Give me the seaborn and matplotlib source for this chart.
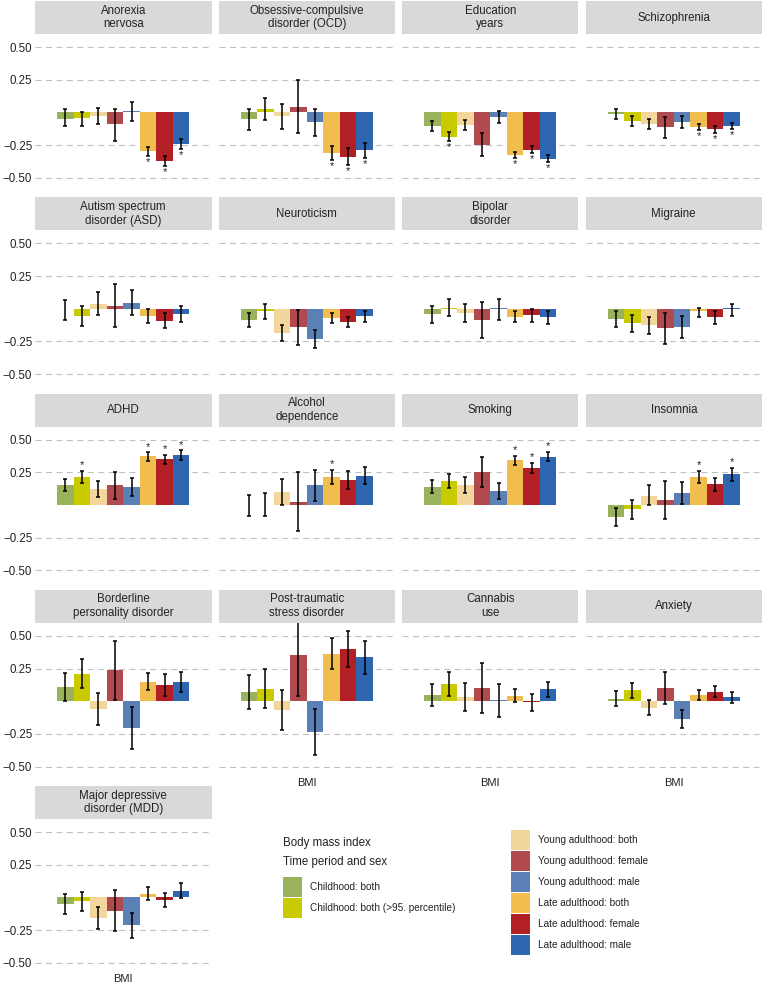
import pandas as pd
import matplotlib
matplotlib.use("Agg")
import matplotlib.pyplot as plt
from matplotlib.patches import Patch
import seaborn as sns

# panel titles (facets), in reading order
traits = ["Anorexia\nnervosa", "Obsessive-compulsive\ndisorder (OCD)", "Education\nyears", "Schizophrenia",
          "Autism spectrum\ndisorder (ASD)", "Neuroticism", "Bipolar\ndisorder", "Migraine",
          "ADHD", "Alcohol\ndependence", "Smoking", "Insomnia",
          "Borderline\npersonality disorder", "Post-traumatic\nstress disorder", "Cannabis\nuse", "Anxiety",
          "Major depressive\ndisorder (MDD)"]

groups = ["Childhood: both", "Childhood: both (>95. percentile)",
          "Young adulthood: both", "Young adulthood: female", "Young adulthood: male",
          "Late adulthood: both", "Late adulthood: female", "Late adulthood: male"]

colors = ["#9BB25C", "#CACA00", "#F2D69C", "#B04A4F", "#5B80B5", "#F1BD4F", "#B22026", "#2E66B1"]

# effect estimates per trait (one value per group)
beta = [
    [-0.048, -0.043, -0.025, -0.090, 0.010, -0.298, -0.371, -0.242],
    [-0.050, 0.025, -0.030, 0.040, -0.073, -0.313, -0.338, -0.285],
    [-0.104, -0.184, -0.093, -0.245, -0.033, -0.328, -0.285, -0.356],
    [-0.010, -0.063, -0.088, -0.114, -0.073, -0.114, -0.129, -0.100],
    [-0.005, -0.059, 0.038, 0.020, 0.046, -0.056, -0.092, -0.041],
    [-0.087, -0.015, -0.186, -0.143, -0.230, -0.071, -0.102, -0.059],
    [-0.043, 0.008, -0.031, -0.087, 0.003, -0.061, -0.048, -0.064],
    [-0.077, -0.110, -0.128, -0.150, -0.138, -0.020, -0.066, 0.005],
    [0.154, 0.217, 0.121, 0.149, 0.139, 0.371, 0.348, 0.384],
    [-0.003, -0.002, 0.101, 0.020, 0.154, 0.212, 0.189, 0.222],
    [0.139, 0.184, 0.152, 0.253, 0.109, 0.341, 0.285, 0.369],
    [-0.091, -0.033, 0.068, 0.035, 0.091, 0.215, 0.157, 0.235],
    [0.109, 0.210, -0.056, 0.235, -0.205, 0.149, 0.121, 0.149],
    [0.068, 0.096, -0.068, 0.356, -0.237, 0.364, 0.396, 0.336],
    [0.045, 0.131, 0.030, 0.101, 0.006, 0.043, -0.008, 0.091],
    [0.020, 0.083, -0.048, 0.101, -0.134, 0.048, 0.073, 0.030],
    [-0.048, -0.028, -0.156, -0.102, -0.209, 0.026, -0.018, 0.048],
]

ci_low = [
    [-0.100, -0.100, -0.088, -0.215, -0.066, -0.331, -0.407, -0.280],
    [-0.134, -0.058, -0.126, -0.159, -0.180, -0.366, -0.404, -0.348],
    [-0.139, -0.220, -0.134, -0.336, -0.083, -0.348, -0.310, -0.381],
    [-0.048, -0.100, -0.129, -0.194, -0.119, -0.136, -0.157, -0.124],
    [-0.089, -0.135, -0.046, -0.140, -0.046, -0.110, -0.150, -0.105],
    [-0.143, -0.077, -0.247, -0.280, -0.298, -0.107, -0.143, -0.105],
    [-0.110, -0.059, -0.105, -0.227, -0.089, -0.105, -0.105, -0.115],
    [-0.138, -0.176, -0.196, -0.273, -0.222, -0.066, -0.117, -0.054],
    [0.104, 0.167, 0.061, 0.043, 0.068, 0.336, 0.313, 0.346],
    [-0.083, -0.088, 0.003, -0.200, 0.033, 0.157, 0.121, 0.157],
    [0.088, 0.126, 0.091, 0.136, 0.043, 0.308, 0.247, 0.333],
    [-0.157, -0.111, 0.000, -0.106, 0.010, 0.169, 0.104, 0.184],
    [0.005, 0.098, -0.179, 0.010, -0.369, 0.083, 0.040, 0.073],
    [-0.056, -0.048, -0.222, 0.038, -0.412, 0.245, 0.258, 0.212],
    [-0.035, 0.038, -0.071, -0.091, -0.119, -0.005, -0.078, 0.035],
    [-0.035, 0.023, -0.109, -0.020, -0.205, 0.013, 0.030, -0.013],
    [-0.128, -0.102, -0.240, -0.258, -0.306, -0.018, -0.074, -0.003],
]

ci_high = [
    [0.030, 0.000, 0.033, 0.030, 0.078, -0.265, -0.331, -0.205],
    [0.030, 0.111, 0.066, 0.245, 0.030, -0.255, -0.275, -0.230],
    [-0.068, -0.149, -0.058, -0.157, 0.008, -0.303, -0.260, -0.328],
    [0.025, -0.025, -0.048, -0.033, -0.030, -0.091, -0.100, -0.078],
    [0.069, 0.020, 0.125, 0.189, 0.143, -0.003, -0.031, 0.020],
    [-0.031, 0.036, -0.128, -0.008, -0.166, -0.033, -0.061, -0.018],
    [0.020, 0.071, 0.038, 0.051, 0.077, -0.018, -0.003, -0.018],
    [-0.015, -0.048, -0.064, -0.033, -0.059, 0.008, -0.015, 0.033],
    [0.202, 0.263, 0.184, 0.255, 0.207, 0.404, 0.384, 0.419],
    [0.078, 0.093, 0.197, 0.250, 0.270, 0.270, 0.263, 0.288],
    [0.192, 0.240, 0.212, 0.366, 0.169, 0.374, 0.323, 0.407],
    [-0.025, 0.035, 0.149, 0.187, 0.174, 0.260, 0.210, 0.285],
    [0.215, 0.326, 0.066, 0.462, -0.043, 0.217, 0.205, 0.227],
    [0.197, 0.247, 0.086, 0.674, -0.063, 0.482, 0.538, 0.460],
    [0.134, 0.225, 0.136, 0.293, 0.131, 0.096, 0.058, 0.146],
    [0.076, 0.141, 0.008, 0.227, -0.066, 0.083, 0.119, 0.071],
    [0.023, 0.043, -0.074, 0.054, -0.115, 0.079, 0.038, 0.107],
]

# 1 = significant (asterisk)
signif = [
    [0, 0, 0, 0, 0, 1, 1, 1],
    [0, 0, 0, 0, 0, 1, 1, 1],
    [0, 1, 0, 0, 0, 1, 1, 1],
    [0, 0, 0, 0, 0, 1, 1, 1],
    [0, 0, 0, 0, 0, 0, 0, 0],
    [0, 0, 0, 0, 0, 0, 0, 0],
    [0, 0, 0, 0, 0, 0, 0, 0],
    [0, 0, 0, 0, 0, 0, 0, 0],
    [0, 1, 0, 0, 0, 1, 1, 1],
    [0, 0, 0, 0, 0, 1, 0, 0],
    [0, 0, 0, 0, 0, 1, 1, 1],
    [0, 0, 0, 0, 0, 1, 0, 1],
    [0, 0, 0, 0, 0, 0, 0, 0],
    [0, 0, 0, 0, 0, 0, 0, 0],
    [0, 0, 0, 0, 0, 0, 0, 0],
    [0, 0, 0, 0, 0, 0, 0, 0],
    [0, 0, 0, 0, 0, 0, 0, 0],
]

yticks = [0.50, 0.25, -0.25, -0.50]
ytick_labels = ["0.50", "0.25", "\u22120.25", "\u22120.50"]
ylims = (-0.57, 0.6)

sns.set_theme(style="white")
plt.rcParams["font.family"] = ["Liberation Sans", "DejaVu Sans"]

W, H = 762, 985
fig = plt.figure(figsize=(W / 100, H / 100), dpi=100)

col_left = [35, 218.5, 402, 585.5]
panel_w = 176.5
px_per_unit = 130.8
panel_h = (ylims[1] - ylims[0]) * px_per_unit
strip_h = 33
row_top = [34 + 196.25 * r for r in range(5)]

for i, trait in enumerate(traits):
    r, c = divmod(i, 4)
    x0 = col_left[c]
    y0 = row_top[r]
    ax = fig.add_axes([x0 / W, 1 - (y0 + panel_h) / H, panel_w / W, panel_h / H])
    sax = fig.add_axes([x0 / W, 1 - y0 / H, panel_w / W, strip_h / H])

    df = pd.DataFrame({"exposure": "BMI", "group": groups, "beta": beta[i],
                       "lo": ci_low[i], "hi": ci_high[i], "sig": signif[i]})
    sns.barplot(data=df, x="exposure", y="beta", hue="group", hue_order=groups,
                palette=colors, width=0.9, errorbar=None, legend=False,
                linewidth=0, saturation=1, ax=ax)

    xs = [p.get_x() + p.get_width() / 2 for p in ax.patches]
    ax.errorbar(xs, df["beta"], yerr=[df["beta"] - df["lo"], df["hi"] - df["beta"]],
                fmt="none", ecolor="black", elinewidth=1.1, capsize=1.6, capthick=1.1, zorder=3)
    for x, b, lo, hi, s in zip(xs, df["beta"], df["lo"], df["hi"], df["sig"]):
        if s:
            if b < 0:
                ax.text(x, lo - 0.008, "*", ha="center", va="top", fontsize=8, color="#222222")
            else:
                ax.text(x, hi + 0.004, "*", ha="center", va="bottom", fontsize=8, color="#222222")

    ax.set_xlim(-0.6, 0.6)
    ax.set_ylim(*ylims)
    ax.set_yticks(yticks)
    ax.set_axisbelow(True)
    ax.grid(axis="y", linestyle=(0, (5.4, 4)), color="#C0C0C0", linewidth=0.8)
    ax.grid(axis="x", visible=False)
    for sp in ax.spines.values():
        sp.set_visible(False)
    ax.set_xlabel("")
    ax.set_ylabel("")
    ax.tick_params(length=0)
    if c == 0:
        ax.set_yticklabels(ytick_labels, fontsize=8.3, color="#222222")
        ax.tick_params(axis="y", pad=2)
    else:
        ax.set_yticklabels([])
    bottom = (i + 4 >= len(traits))
    if bottom:
        ax.tick_params(axis="x", labelsize=8, labelcolor="#222222", pad=1.5)
    else:
        ax.set_xticklabels([])

    sax.set_facecolor("#D9D9D9")
    sax.set_xticks([])
    sax.set_yticks([])
    for sp in sax.spines.values():
        sp.set_visible(False)
    sax.text(0.5, 0.5, trait, ha="center", va="center", fontsize=8.3,
             color="#222222", linespacing=1.2, transform=sax.transAxes)

# legend
fig.text(283 / W, 1 - 843 / H, "Body mass index", ha="left", va="center", fontsize=8.3, color="#222222")
fig.text(283 / W, 1 - 862 / H, "Time period and sex", ha="left", va="center", fontsize=8.3, color="#222222")

handles = [Patch(facecolor=col, edgecolor="none") for col in colors]
fs = 7.2
fs_px = fs * 100 / 72
leg_kw = dict(frameon=False, fontsize=fs, handlelength=19 / fs_px,
              handleheight=(20 / fs_px - 0.245) / 0.65,
              labelspacing=1 / fs_px, handletextpad=8 / fs_px, borderpad=0, borderaxespad=0,
              loc="upper left", labelcolor="#222222")
fig.legend(handles[:2], groups[:2], bbox_to_anchor=(283 / W, 1 - 877 / H), **leg_kw)
fig.legend(handles[2:], groups[2:], bbox_to_anchor=(511 / W, 1 - 830 / H), **leg_kw)

fig.savefig("out.png", dpi=100, facecolor="white")
